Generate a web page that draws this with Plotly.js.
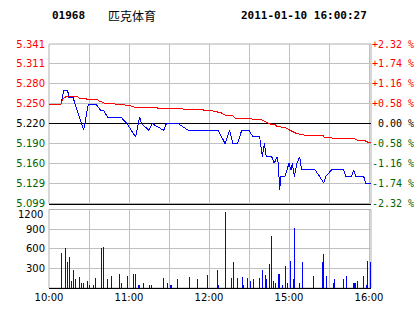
<!DOCTYPE html>
<html><head><meta charset="utf-8">
<script src="https://cdn.plot.ly/plotly-3.0.1.min.js"></script>
<style>html,body{margin:0;padding:0;background:#fff}#chart{width:414px;height:314px}
.scatterlayer .js-line{shape-rendering:crispEdges}</style>
</head><body><div id="chart"></div>
<script>
const stockCode = '01968';
const stockName = '匹克体育';
const stamp = '2011-01-10 16:00:27';
const prevClose = 5.22;
const pctTicks = [2.32, 1.74, 1.16, 0.58, 0, -0.58, -1.16, -1.74, -2.32];
const priceLabels = ['5.341','5.311','5.280','5.250','5.220','5.190','5.160','5.129','5.099'];
const pctLabels = ['+2.32 %','+1.74 %','+1.16 %','+0.58 %','\u00a00.00 %','-0.58 %','-1.16 %','-1.74 %','-2.32 %'];
const timeTicks = [0, 30, 60, 90, 120, 150, 180, 210, 240];
const timeLabels = ['10:00','','11:00','','12:00','','15:00','','16:00'];
const volTicks = [300, 600, 900, 1200];
const volLabels = ['300','600','900','1200'];

// minutes of trading since 10:00 (morning 10:00-12:30, afternoon 14:30-16:00)
const priceTime = [0,9,11,14,15,18,26,28.5,29.5,35,39,41,44,54,58.5,65,68,69.5,75,77.5,86,88,97,104.5,127,132,135.5,138,141.5,144.5,150,153,158,160,161.5,163,167,169,171,172,173,174,177,180,181.5,182.5,184,186,188,189.5,199.5,203,206,207.5,212,221,222.5,227,228.5,230,236,237.5,241.5];
const priceVals = [5.25,5.25,5.27,5.27,5.26,5.26,5.21,5.24,5.25,5.25,5.24,5.24,5.23,5.23,5.22,5.20,5.23,5.22,5.21,5.22,5.21,5.22,5.22,5.21,5.21,5.19,5.21,5.19,5.19,5.21,5.21,5.20,5.20,5.17,5.19,5.17,5.17,5.16,5.17,5.16,5.12,5.14,5.14,5.16,5.15,5.16,5.14,5.16,5.17,5.15,5.15,5.14,5.13,5.14,5.15,5.15,5.14,5.14,5.15,5.14,5.14,5.13,5.13];

const avgTime = [0,9,10.5,13.5,21,22.5,27.75,28.5,36,37.5,39.75,41.25,48.75,49.5,56.25,57.75,60.75,62.25,64.5,80.25,81.75,99.75,100.5,115.5,116.25,122.25,123.75,128.25,131.25,132.75,138,139.5,150.75,152.25,158.25,162,166.5,169.5,171,175.5,178.5,180.75,183.75,185.25,188.25,192,205.5,206.25,213.75,228.75,230.25,237,240,241.5];
const avgVals = [5.25,5.25,5.258,5.262,5.262,5.259,5.259,5.257,5.257,5.2545,5.253,5.2515,5.2515,5.2495,5.2495,5.248,5.248,5.246,5.245,5.245,5.2435,5.2435,5.242,5.242,5.240,5.240,5.2383,5.2375,5.2343,5.2318,5.2318,5.2287,5.2287,5.2272,5.227,5.2237,5.2192,5.2185,5.216,5.2146,5.213,5.2101,5.207,5.2055,5.204,5.2025,5.2025,5.1995,5.198,5.198,5.1954,5.1943,5.191,5.191];

const volTime = [9,12,14,15,17,18,20,23,24,26,29,30,33,35,39,41,44,47,53,54,59,63,65,67,68,71,75,77,86,89,91,92,96,105,111,119,126,127,132,137,138,141,145,146,149,151,153,158,160,162,163,165,167,168,170,172,173,175,177,179,181,183,184,188,190,198,205,206,208,213,214,221,223,228,229,230,231,236,238,239,241];
const volVals = [540,610,390,480,110,280,140,170,80,80,100,50,40,160,610,630,130,190,220,80,190,220,220,50,50,80,40,50,160,80,40,40,130,170,130,200,270,40,1160,160,400,160,170,40,160,110,140,160,280,200,130,370,800,100,80,220,220,50,340,80,420,140,920,80,400,190,400,520,190,80,130,140,190,80,80,80,100,190,40,420,390];

const RED = '#ff0000', GREEN = '#006400', GRID = '#c0c0c0', FRAME = '#b0b0b0';
const colorFor = p => p > 0 ? RED : (p < 0 ? GREEN : '#000000');
const priceTickVals = pctTicks.map(p => prevClose * (1 + p / 100));
const pRange = [prevClose * (1 - 0.0232), prevClose * (1 + 0.0232)];
const xRange = [0, 241.5];
const avgPct = avgVals.map(v => (v / prevClose - 1) * 100);

const traces = [
  {type:'scatter', mode:'lines', x:priceTime, y:priceVals, xaxis:'x', yaxis:'y',
   line:{color:'#0000ff', width:1}, hoverinfo:'skip'},
  {type:'scatter', mode:'lines', x:avgTime, y:avgPct, xaxis:'x', yaxis:'y2',
   line:{color:RED, width:1}, hoverinfo:'skip'},
  {type:'bar', x:volTime, y:volVals, xaxis:'x2', yaxis:'y3', width:0.75,
   marker:{color:'#0000ff', line:{width:0}}, hoverinfo:'skip'}
];

const tickFont = {family:'DejaVu Sans', size:10, color:'#000'};
const layout = {
  width:414, height:314, margin:{l:49, r:43, t:44, b:26},
  paper_bgcolor:'#fff', plot_bgcolor:'#fff', showlegend:false, bargap:0,
  xaxis:{domain:[0,1], anchor:'y', range:xRange, tickvals:timeTicks, showticklabels:false,
    showgrid:true, gridcolor:GRID, gridwidth:1, zeroline:false, showline:true, linecolor:'#000', linewidth:1, ticks:''},
  yaxis:{domain:[0.3463,1], anchor:'x', range:pRange, tickvals:priceTickVals,
    ticktext:priceLabels.map((s,i)=>`<span style="color:${colorFor(pctTicks[i])}">${s}</span>`),
    showgrid:true, gridcolor:GRID, zeroline:false, showline:false, ticks:'', tickfont:tickFont, ticklabelstandoff:3},
  yaxis2:{overlaying:'y', side:'right', anchor:'x', range:[-2.32, 2.32], tickvals:pctTicks,
    ticktext:pctLabels.map((s,i)=>`<span style="color:${colorFor(pctTicks[i])}">${s}</span>`),
    showgrid:false, zeroline:true, zerolinecolor:'#000', zerolinewidth:1, showline:false, ticks:'',
    tickfont:{family:'DejaVu Sans Mono', size:10, color:'#000'}, ticklabelstandoff:0},
  xaxis2:{domain:[0,1], anchor:'y3', range:xRange, tickvals:timeTicks, ticktext:timeLabels,
    showgrid:true, gridcolor:GRID, zeroline:false, showline:true, linecolor:'#000', linewidth:1, ticks:'', tickfont:tickFont},
  yaxis3:{domain:[0,0.3217], anchor:'x2', range:[0,1200], tickvals:volTicks.slice(0,3), ticktext:volLabels.slice(0,3),
    showgrid:true, gridcolor:GRID, zeroline:false, showline:false, ticks:'', tickfont:tickFont, ticklabelstandoff:3},
  shapes:[
    {type:'rect', xref:'x domain', yref:'y domain', x0:0, x1:1, y0:0, y1:1, line:{color:FRAME, width:1}, layer:'below'},
    {type:'rect', xref:'x2 domain', yref:'y3 domain', x0:0, x1:1, y0:0, y1:1, line:{color:FRAME, width:1}, layer:'below'}
  ],
  annotations:[
    {xref:'paper', yref:'paper', x:0.003, y:1.1148, xanchor:'left', yanchor:'middle', showarrow:false,
     text:`<b>${stockCode}</b>`, font:{family:'DejaVu Sans Mono', size:11, color:'#000'}},
    {xref:'paper', yref:'paper', x:0.177, y:1.1148, xanchor:'left', yanchor:'middle', showarrow:false,
     text:stockName, font:{family:'Noto Sans CJK SC', size:12, color:'#000'}},
    {xref:'paper', yref:'paper', x:0.994, y:1.1148, xanchor:'right', yanchor:'middle', showarrow:false,
     text:`<b>${stamp}</b>`, font:{family:'DejaVu Sans Mono', size:11, color:'#000'}},
    {xref:'paper', yref:'y3', x:-0.012, y:volTicks[3], yshift:-5, xanchor:'right', yanchor:'middle', showarrow:false,
     text:volLabels[3], font:tickFont}
  ]
};
Plotly.newPlot('chart', traces, layout, {staticPlot:true, displayModeBar:false});
</script></body></html>
